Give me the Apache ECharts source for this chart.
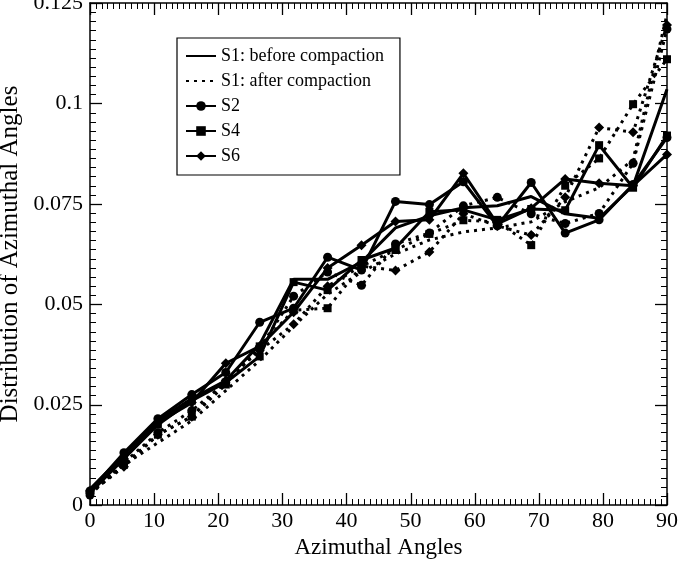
<!DOCTYPE html>
<html>
<head>
<meta charset="utf-8">
<script src="https://cdn.jsdelivr.net/npm/echarts@6/dist/echarts.min.js"></script>
<style>
  html, body { margin: 0; padding: 0; background: #fff; }
  #chart { width: 683px; height: 564px; }
</style>
</head>
<body>
<div id="chart"></div>
<script>
// azimuthal angle bins
var angles = [0, 5.29, 10.59, 15.88, 21.18, 26.47, 31.76, 37.06, 42.35, 47.65, 52.94, 58.24, 63.53, 68.82, 74.12, 79.41, 84.71, 90];

// before compaction (solid)
var s1Before = [0.004, 0.0125, 0.021, 0.0265, 0.031, 0.040, 0.0562, 0.0562, 0.0605, 0.069, 0.072, 0.074, 0.0745, 0.0768, 0.0725, 0.0714, 0.0795, 0.1035];
var s2Before = [0.0035, 0.013, 0.0215, 0.0275, 0.033, 0.0455, 0.049, 0.0617, 0.0585, 0.0756, 0.0748, 0.0805, 0.0695, 0.0803, 0.0677, 0.071, 0.0798, 0.0915];
var s4Before = [0.003, 0.0115, 0.020, 0.026, 0.0305, 0.037, 0.0555, 0.0535, 0.061, 0.064, 0.073, 0.0735, 0.071, 0.0737, 0.0734, 0.0896, 0.079, 0.092];
var s6Before = [0.0035, 0.0115, 0.0205, 0.0255, 0.0353, 0.0395, 0.048, 0.059, 0.0647, 0.0706, 0.071, 0.0826, 0.070, 0.0739, 0.0812, 0.0801, 0.0795, 0.0873];

// after compaction (dotted)
var s1After = [0.003, 0.010, 0.0155, 0.021, 0.0285, 0.036, 0.0445, 0.0525, 0.058, 0.0625, 0.066, 0.068, 0.069, 0.0705, 0.0755, 0.079, 0.086, 0.1222];
var s2After = [0.0025, 0.0105, 0.018, 0.0235, 0.0305, 0.039, 0.052, 0.058, 0.0547, 0.065, 0.0677, 0.0745, 0.0766, 0.0725, 0.0701, 0.0726, 0.0851, 0.1185];
var s4After = [0.003, 0.010, 0.0175, 0.022, 0.030, 0.0395, 0.0485, 0.049, 0.0595, 0.0635, 0.0675, 0.0709, 0.0705, 0.0647, 0.0795, 0.0863, 0.0998, 0.111];
var s6After = [0.003, 0.0095, 0.0175, 0.022, 0.031, 0.0385, 0.045, 0.0545, 0.0595, 0.0584, 0.063, 0.0725, 0.0695, 0.0672, 0.0766, 0.094, 0.0928, 0.1195];

var yTicks = [0, 0.025, 0.05, 0.075, 0.1, 0.125];
var xTicks = [0, 10, 20, 30, 40, 50, 60, 70, 80, 90];

function pairs(ys) {
  return angles.map(function (x, i) { return [x, ys[i]]; });
}

var FONT = "Liberation Serif";
var dots = [3, 5];
var MINOR_SPLIT = 11;

function solid(name, ys, symbol, size) {
  return {
    name: name,
    type: "line",
    data: pairs(ys),
    symbol: symbol || "none",
    symbolSize: size || 9,
    showSymbol: !!symbol,
    itemStyle: { color: "#000" },
    lineStyle: { color: "#000", width: 3 },
    animation: false,
    z: 3
  };
}

function dotted(name, ys, symbol, size) {
  return {
    name: name,
    type: "line",
    data: pairs(ys),
    symbol: symbol || "none",
    symbolSize: size || 9,
    showSymbol: !!symbol,
    itemStyle: { color: "#000" },
    lineStyle: { color: "#000", width: 3, type: dots },
    animation: false,
    z: 2
  };
}

function frameAxis(extra) {
  return Object.assign({
    type: "value",
    axisLine: { show: true, onZero: false, lineStyle: { color: "#000", width: 1.5 } },
    axisTick: { show: false },
    axisLabel: { show: false },
    splitLine: { show: false }
  }, extra);
}

var chart = echarts.init(document.getElementById("chart"));

chart.setOption({
  backgroundColor: "#fff",
  animation: false,
  grid: { left: 90, right: 16, top: 3, bottom: 59, containLabel: false, outerBoundsMode: "none" },
  legend: {
    orient: "vertical",
    left: 177,
    top: 38,
    data: [
      { name: "S1: before compaction", itemStyle: { opacity: 0 } },
      { name: "S1: after compaction", itemStyle: { opacity: 0 } },
      "S2", "S4", "S6"
    ],
    borderColor: "#000",
    borderWidth: 1.2,
    padding: [9, 16, 10, 8],
    itemGap: 7,
    itemWidth: 30,
    itemHeight: 12,
    textStyle: { fontFamily: FONT, fontSize: 18, color: "#000" }
  },
  xAxis: [
    frameAxis({
      min: xTicks[0], max: xTicks[xTicks.length - 1], interval: 10,
      name: "Azimuthal Angles",
      nameLocation: "middle",
      nameGap: 30,
      nameTextStyle: { fontFamily: FONT, fontSize: 23, color: "#000" },
      axisLabel: { show: true, fontFamily: FONT, fontSize: 22, color: "#000", margin: 5 }
    }),
    frameAxis({ min: xTicks[0], max: xTicks[xTicks.length - 1], position: "top" })
  ],
  yAxis: [
    frameAxis({
      min: yTicks[0], max: yTicks[yTicks.length - 1], interval: 0.025,
      name: "Distribution of Azimuthal Angles",
      nameLocation: "middle",
      nameGap: 46,
      nameTextStyle: { fontFamily: FONT, fontSize: 25, color: "#000" },
      axisLabel: { show: true, fontFamily: FONT, fontSize: 22, color: "#000", margin: 7 }
    }),
    frameAxis({ min: yTicks[0], max: yTicks[yTicks.length - 1], position: "right" })
  ],
  series: [
    solid("S1: before compaction", s1Before),
    dotted("S1: after compaction", s1After),
    solid("S2", s2Before, "circle", 9),
    solid("S4", s4Before, "rect", 8),
    solid("S6", s6Before, "diamond", 10),
    dotted("S2", s2After, "circle", 9),
    dotted("S4", s4After, "rect", 8),
    dotted("S6", s6After, "diamond", 10)
  ]
});

// inward ticks on all four edges, placed through the axes' own scales
function tickLine(x1, y1, x2, y2, w) {
  return {
    type: "line",
    silent: true,
    z: 10,
    shape: { x1: x1, y1: y1, x2: x2, y2: y2 },
    style: { stroke: "#000", lineWidth: w }
  };
}

var ticks = [];
var xMin = xTicks[0], xStep = xTicks[1] - xTicks[0];
var yMin = yTicks[0], yStep = yTicks[1] - yTicks[0];
var yBottom = chart.convertToPixel({ yAxisIndex: 0 }, yTicks[0]);
var yTop = chart.convertToPixel({ yAxisIndex: 0 }, yTicks[yTicks.length - 1]);
var xLeft = chart.convertToPixel({ xAxisIndex: 0 }, xTicks[0]);
var xRight = chart.convertToPixel({ xAxisIndex: 0 }, xTicks[xTicks.length - 1]);

var nx = (xTicks.length - 1) * MINOR_SPLIT;
for (var k = 0; k <= nx; k++) {
  var major = k % MINOR_SPLIT === 0;
  var len = major ? 12 : 6;
  var w = major ? 1.3 : 1;
  var px = Math.round(chart.convertToPixel({ xAxisIndex: 0 }, xMin + k * xStep / MINOR_SPLIT)) + 0.5;
  ticks.push(tickLine(px, yBottom, px, yBottom - len, w));
  ticks.push(tickLine(px, yTop, px, yTop + len, w));
}

var ny = (yTicks.length - 1) * MINOR_SPLIT;
for (var j = 0; j <= ny; j++) {
  var majorY = j % MINOR_SPLIT === 0;
  var lenY = majorY ? 12 : 6;
  var wY = majorY ? 1.3 : 1;
  var py = Math.round(chart.convertToPixel({ yAxisIndex: 0 }, yMin + j * yStep / MINOR_SPLIT)) + 0.5;
  ticks.push(tickLine(xLeft, py, xLeft + lenY, py, wY));
  ticks.push(tickLine(xRight, py, xRight - lenY, py, wY));
}

chart.setOption({ graphic: { elements: ticks } });
</script>
</body>
</html>
